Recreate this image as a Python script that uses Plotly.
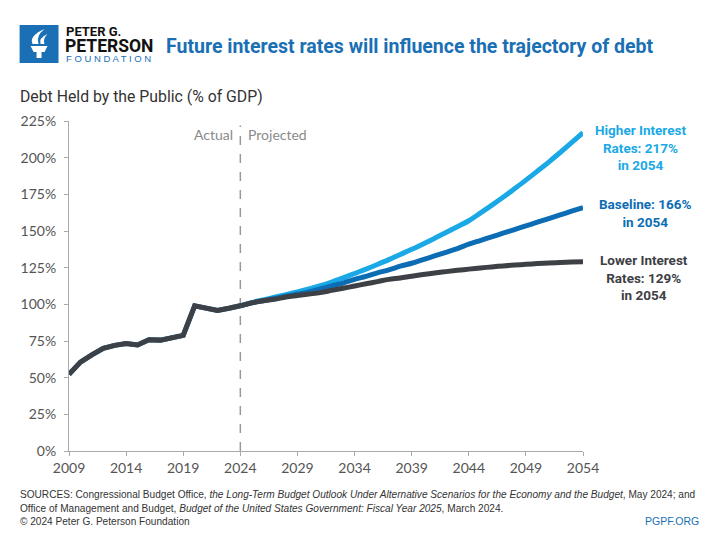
import plotly.graph_objects as go

years_actual = list(range(2009, 2025))
debt_actual = [52.3, 60.6, 65.5, 70.0, 72.0, 73.3, 72.3, 75.8, 75.6, 77.0, 78.8, 99.0, 97.0, 95.8, 97.3, 99.0]

years_proj = list(range(2024, 2055))
baseline = [99.0, 101.0, 102.5, 104.0, 105.5, 107.0, 108.5, 110.5, 112.5, 114.5, 117.0,
            119.0, 121.5, 123.5, 126.0, 128.0, 130.5, 133.0, 135.5, 138.0, 141.0,
            143.5, 146.0, 148.5, 151.0, 153.5, 156.0, 158.5, 161.0, 163.5, 166.0]
higher = [99.0, 101.2, 103.0, 104.8, 106.6, 108.5, 110.5, 112.7, 115.2, 118.0, 121.0,
          124.0, 127.2, 130.5, 134.0, 137.5, 141.2, 145.0, 148.9, 152.9, 157.0,
          162.2, 167.5, 173.0, 178.8, 184.7, 190.8, 197.0, 203.5, 210.2, 217.0]
lower = [99.0, 101.0, 102.5, 103.5, 105.0, 106.0, 107.0, 108.0, 109.5, 111.0, 112.5,
         114.0, 115.5, 117.0, 118.0, 119.2, 120.3, 121.3, 122.3, 123.2, 124.0,
         124.8, 125.5, 126.2, 126.8, 127.3, 127.8, 128.2, 128.5, 128.8, 129.0]

x_ticks = list(range(2009, 2055, 5))
y_ticks = list(range(0, 226, 25))
y_tick_labels = [f"{v}%" for v in y_ticks]

C_HIGH = "#1aa9e6"
C_BASE = "#0c6db5"
C_LOW = "#3d4045"
C_TITLE = "#1a6fb5"

L, R, T, B = 68.5, 583.5, 121.0, 450.7
W, H = 720, 540


def px(x):
    return (x - L) / (R - L)


def py(y):
    return (B - y) / (B - T)


fig = go.Figure()
fig.add_trace(go.Scatter(x=years_actual, y=debt_actual, mode="lines",
                         line=dict(color=C_BASE, width=5), hoverinfo="skip"))
fig.add_trace(go.Scatter(x=years_proj, y=higher, mode="lines",
                         line=dict(color=C_HIGH, width=5, shape="spline"), name="Higher"))
fig.add_trace(go.Scatter(x=years_proj, y=baseline, mode="lines",
                         line=dict(color=C_BASE, width=5, shape="spline"), name="Baseline"))
fig.add_trace(go.Scatter(x=years_proj, y=lower, mode="lines",
                         line=dict(color=C_LOW, width=5, shape="spline"), name="Lower"))
fig.add_trace(go.Scatter(x=years_actual, y=debt_actual, mode="lines",
                         line=dict(color=C_LOW, width=5), name="Actual"))

# divider
fig.add_shape(type="line", xref="x", yref="y", x0=2024, x1=2024, y0=0, y1=222,
              line=dict(color="#999999", width=1.5, dash="dash"), layer="below")

ann = []
tick_font = dict(family="Lato, sans-serif", size=14, color="#555555")
ann.append(dict(x=2023.5, y=216, xref="x", yref="y", text="Actual", showarrow=False,
                xanchor="right", yanchor="middle", font=dict(family="Lato, sans-serif", size=14, color="#8a8a8a")))
ann.append(dict(x=2024.5, y=216, xref="x", yref="y", text="Projected", showarrow=False,
                xanchor="left", yanchor="middle", font=dict(family="Lato, sans-serif", size=14, color="#8a8a8a")))

lab_font = "Roboto, sans-serif"


def pann(x, y, text, size, color, xanchor="left", family=lab_font, align="left"):
    return dict(x=px(x), y=py(y), xref="paper", yref="paper", showarrow=False,
                xanchor=xanchor, yanchor="middle", text=text, align=align,
                font=dict(family=family, size=size, color=color))


ann.append(pann(641, 147, "<b>Higher Interest<br>Rates: 217%<br>in 2054</b>", 13.5, C_HIGH, "center", align="center"))
ann.append(pann(646, 213, "<b>Baseline: 166%<br>in 2054</b>", 13.5, C_BASE, "center", align="center"))
ann.append(pann(645, 277, "<b>Lower Interest<br>Rates: 129%<br>in 2054</b>", 13.5, C_LOW, "center", align="center"))

# header
ann.append(pann(164, 47, "<b>Future interest rates will influence the trajectory of debt</b>", 19.5, C_TITLE))
ann.append(pann(63, 32, "<b>PETER G.</b>", 13, "#111111"))
ann.append(pann(62, 46, "<b>PETERSON</b>", 17.5, "#111111"))
ann.append(pann(63, 59, "F O U N D A T I O N", 9.5, C_TITLE, family="Liberation Sans, sans-serif"))
ann.append(pann(17, 97, "Debt Held by the Public (% of GDP)", 15.8, "#333333"))

# footer
src_font_family = "Liberation Sans, sans-serif"
ann.append(pann(17, 494, "SOURCES: Congressional Budget Office, <i>the Long-Term Budget Outlook Under Alternative Scenarios for the Economy and the Budget</i>, May 2024; and",
                10.1, "#333333", family=src_font_family))
ann.append(pann(17, 508, "Office of Management and Budget, <i>Budget of the United States Government: Fiscal Year 2025</i>, March 2024.",
                10.1, "#333333", family=src_font_family))
ann.append(pann(17, 521, "© 2024 Peter G. Peterson Foundation", 10.1, "#333333", family=src_font_family))
ann.append(pann(702, 521, "PGPF.ORG", 10.5, C_TITLE, "right", family=src_font_family))

# logo box
fig.add_shape(type="rect", xref="paper", yref="paper", x0=px(19), x1=px(58), y0=py(63), y1=py(25),
              fillcolor=C_TITLE, line=dict(width=0))
fig.add_shape(type="path", xref="paper", yref="paper",
              path=f"M {px(30)} {py(46)} L {px(47)} {py(46)} L {px(44)} {py(52)} L {px(41)} {py(52)} L {px(41)} {py(58)} L {px(36)} {py(58)} L {px(36)} {py(52)} L {px(33)} {py(52)} Z",
              fillcolor="white", line=dict(width=0))
fig.add_shape(type="path", xref="paper", yref="paper",
              path=f"M {px(32)} {py(44)} Q {px(28)} {py(36)} {px(44)} {py(29)} Q {px(35)} {py(36)} {px(38)} {py(44)} Z",
              fillcolor="white", line=dict(width=0))
fig.add_shape(type="path", xref="paper", yref="paper",
              path=f"M {px(40)} {py(44)} Q {px(38)} {py(38)} {px(47)} {py(34)} Q {px(42)} {py(39)} {px(44)} {py(44)} Z",
              fillcolor="white", line=dict(width=0))

fig.update_layout(
    width=W, height=H,
    margin=dict(l=L, r=W - R, t=T, b=H - B),
    paper_bgcolor="white", plot_bgcolor="white",
    showlegend=False,
    annotations=ann,
    xaxis=dict(range=[2009, 2054], tickvals=x_ticks, ticks="outside", ticklen=4,
               tickcolor="#aaaaaa", showgrid=False, zeroline=False, showline=True,
               linecolor="#aaaaaa", linewidth=1, tickfont=tick_font),
    yaxis=dict(range=[0, 225], tickvals=y_ticks, ticktext=y_tick_labels, ticks="outside",
               ticklen=4, tickcolor="#aaaaaa", showgrid=False, zeroline=False, showline=True,
               linecolor="#aaaaaa", linewidth=1, tickfont=tick_font, ticklabelstandoff=5),
)

fig.write_html("out.html", config={"displayModeBar": False},
               post_script="document.body.style.margin='0';")
